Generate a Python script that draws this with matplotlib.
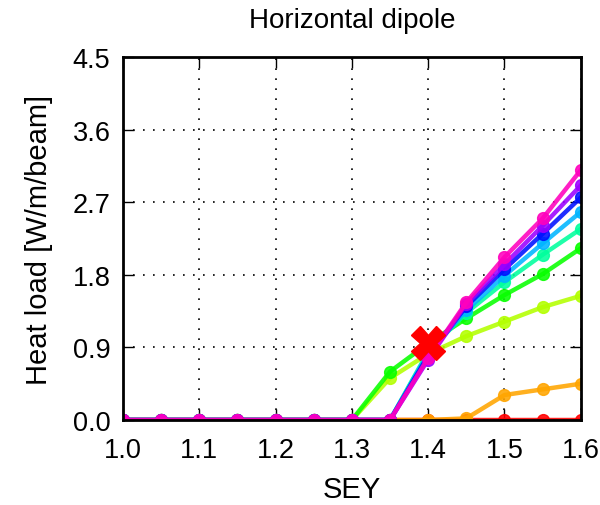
import numpy as np
import matplotlib.pyplot as plt

plt.rcParams['font.family'] = ['Liberation Sans', 'DejaVu Sans']

sey = [1.0, 1.05, 1.1, 1.15, 1.2, 1.25, 1.3, 1.35, 1.4, 1.45, 1.5, 1.55, 1.6]
z7 = [0, 0, 0, 0, 0, 0, 0]
# heat load per curve (red -> pink)
hl_red = z7 + [0, 0, 0, 0, 0, 0]
hl_orange = z7 + [0, 0, 0.02, 0.31, 0.38, 0.45]
hl_yellowgreen = z7 + [0.52, 0.82, 1.04, 1.22, 1.40, 1.54]
hl_green = z7 + [0.60, 0.95, 1.26, 1.55, 1.81, 2.13]
hl_springgreen = z7 + [0, 0.85, 1.33, 1.71, 2.05, 2.37]
hl_skyblue = z7 + [0, 0.83, 1.36, 1.79, 2.19, 2.58]
hl_blue = z7 + [0, 0.80, 1.41, 1.87, 2.31, 2.76]
hl_purple = z7 + [0, 0.75, 1.44, 1.93, 2.41, 2.91]
hl_pink = z7 + [0, 0.77, 1.46, 2.02, 2.50, 3.10]
curves = [hl_red, hl_orange, hl_yellowgreen, hl_green, hl_springgreen,
          hl_skyblue, hl_blue, hl_purple, hl_pink]

design_x = 1.4
design_y = 0.95

fig = plt.figure(figsize=(6, 5.06), dpi=100)
ax = fig.add_axes([0.205, 0.168, 0.763, 0.717])

for i, c in enumerate(curves):
    col = plt.cm.hsv(i / 9.)
    ax.plot(sey, c, '.-', color=col, lw=3.2, ms=17, alpha=0.88)

ax.plot(design_x, design_y, 'X', color='red', ms=24, mec='red')

ax.set_xlim(1.0, 1.6)
ax.set_ylim(0, 4.5)
ax.set_xticks(np.arange(1.0, 1.61, 0.1))
ax.set_yticks(np.arange(0, 4.51, 0.9))
ax.xaxis.set_major_formatter(plt.FormatStrFormatter('%.1f'))
ax.yaxis.set_major_formatter(plt.FormatStrFormatter('%.1f'))
ax.tick_params(direction='in', top=True, right=True, length=8, width=1, labelsize=19.5)
ax.tick_params(axis='x', pad=12)
ax.tick_params(axis='y', pad=9)
ax.grid(True, color='k', ls=(0, (1, 5)), lw=1.2)
for s in ax.spines.values():
    s.set_linewidth(2)

ax.set_xlabel('SEY', fontsize=21, labelpad=9)
ax.set_ylabel('Heat load [W/m/beam]', fontsize=21, labelpad=14)
ax.set_title('Horizontal dipole', fontsize=20, pad=22)

fig.savefig('out.png')
